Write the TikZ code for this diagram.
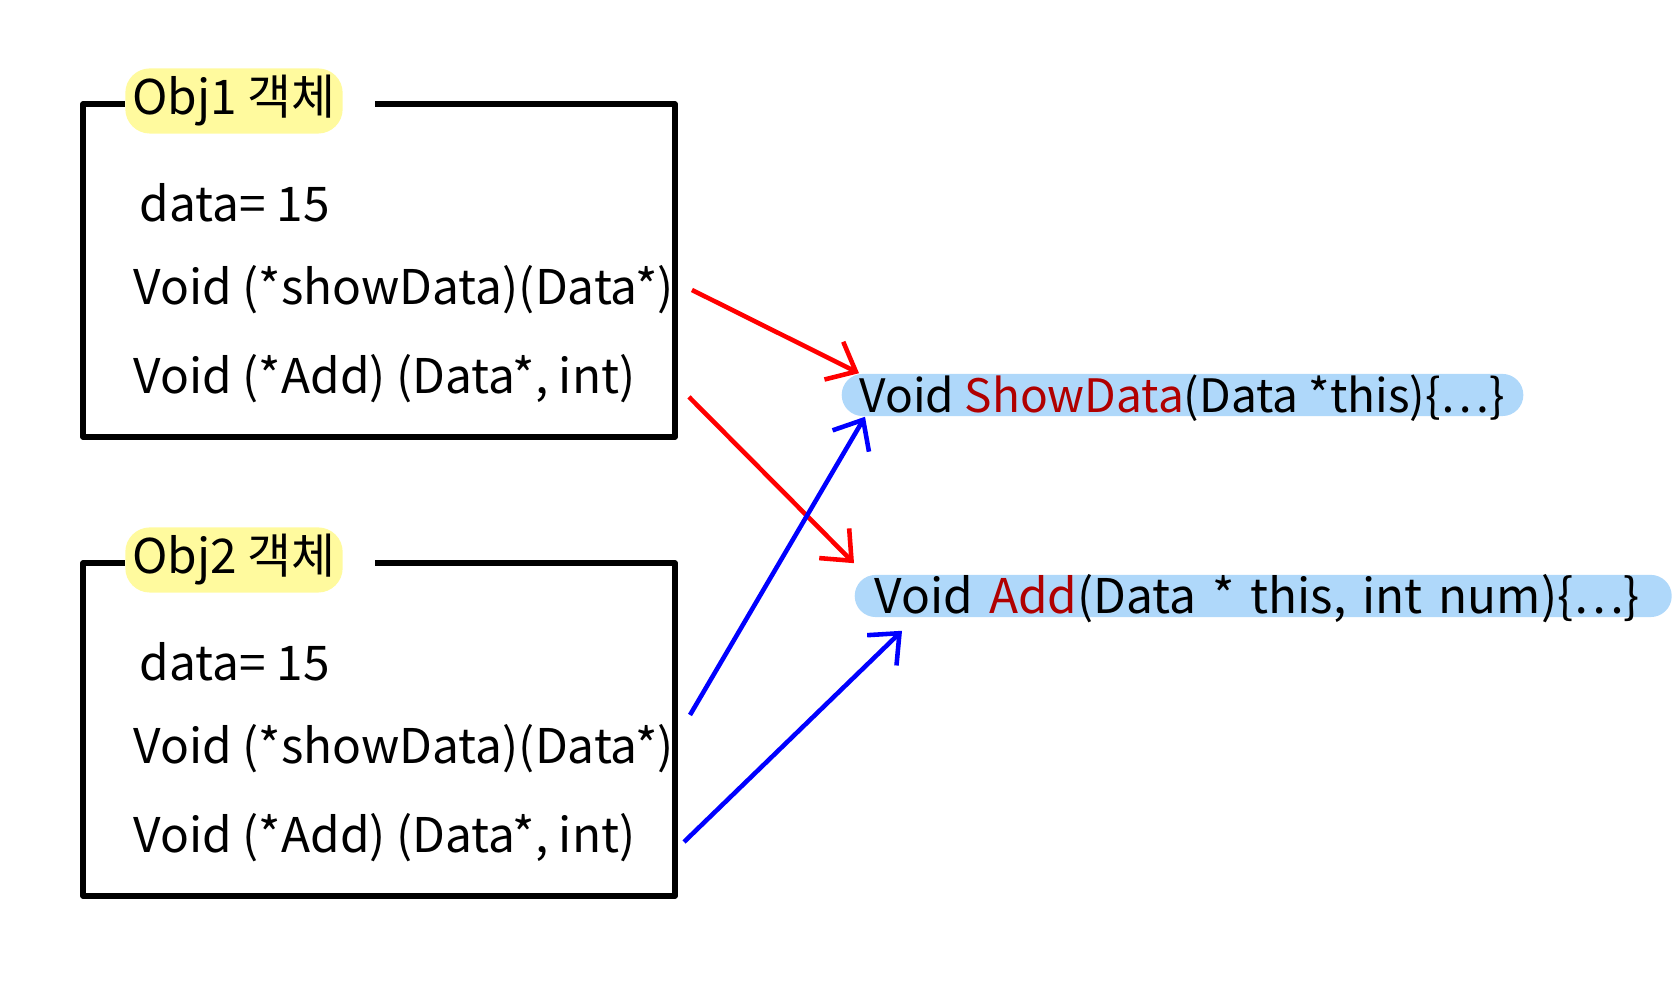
\documentclass[tikz,border=0pt]{standalone}
\usepackage{fontspec}
\setmainfont{Noto Sans CJK KR}
\usepackage{xcolor}
\usetikzlibrary{arrows.meta,positioning,calc}

\definecolor{hlyellow}{HTML}{FFFA9E}
\definecolor{pillblue}{HTML}{AFD8FA}
\definecolor{fnred}{HTML}{B00000}

\tikzset{
    objbox/.style={line width=1.6pt, line join=round},
    title/.style={fill=hlyellow, rounded corners=7pt, inner xsep=2pt, inner ysep=2pt, font=\fontsize{13.6}{16}\selectfont},
    code/.style={anchor=west, inner sep=0pt, font=\fontsize{13.6}{16}\selectfont},
    pill/.style={fill=pillblue, rounded corners=0.21cm, anchor=west, minimum height=0.42cm, align=left,
        inner xsep=0.2cm, inner ysep=0pt, text height=11pt, text depth=1pt, font=\fontsize{13.6}{16}\selectfont},
    redarrow/.style={-{Straight Barb[length=7pt,width=12pt]}, red, line width=1.3pt},
    bluearrow/.style={-{Straight Barb[length=7pt,width=12pt]}, blue, line width=1.3pt}
}

\begin{document}
\begin{tikzpicture}
    \useasboundingbox (0,0) rectangle (16.74,10);

    % the two objects
    \foreach \i/\dy in {1/0,2/-4.59} {
        \begin{scope}[yshift=\dy cm]
            \node[title] (t\i) at (2.34,8.99) {Obj\i\ 객체};
            \node[code] (d\i) at (1.39,7.97) {data= 15};
            \node[code] (s\i) at (1.33,7.10) {Void (*showData)(Data*)};
            \node[code] (a\i) at (1.33,6.21) {Void (*Add) (Data*, int)};
            \draw[objbox] ($(t\i.east |- 0,8.96)+(0.32,0)$) -- (6.75,8.96) |- (0.83,5.63) -- (0.83,8.96) -- (t\i.west |- 0,8.96);
        \end{scope}
    }

    % the functions
    \node[pill, inner xsep=0.18cm, font=\fontsize{13.1}{16}\selectfont] (f1) at (8.41,6.05) {Void \textcolor{fnred}{ShowData}(Data *this)\{\ldots\}};
    \node[pill, text width=7.77cm] (f2) at (8.54,4.04) {Void \textcolor{fnred}{Add}(Data * this, int num)\{\ldots\}};

    \coordinate (r1) at (6.92,7.10);
    \coordinate (r2) at (6.89,6.03);
    \coordinate (b1) at (6.90,2.85);
    \coordinate (b2) at (6.84,1.58);

    \draw[redarrow] (r1) -- ([xshift=0.18cm]f1.north west);
    \draw[redarrow] (r2) -- ([yshift=0.11cm]f2.north west);
    \draw[bluearrow] (b1) -- ([xshift=0.24cm]f1.south west);
    \draw[bluearrow] (b2) -- ([xshift=0.48cm,yshift=-0.13cm]f2.south west);
\end{tikzpicture}
\end{document}
